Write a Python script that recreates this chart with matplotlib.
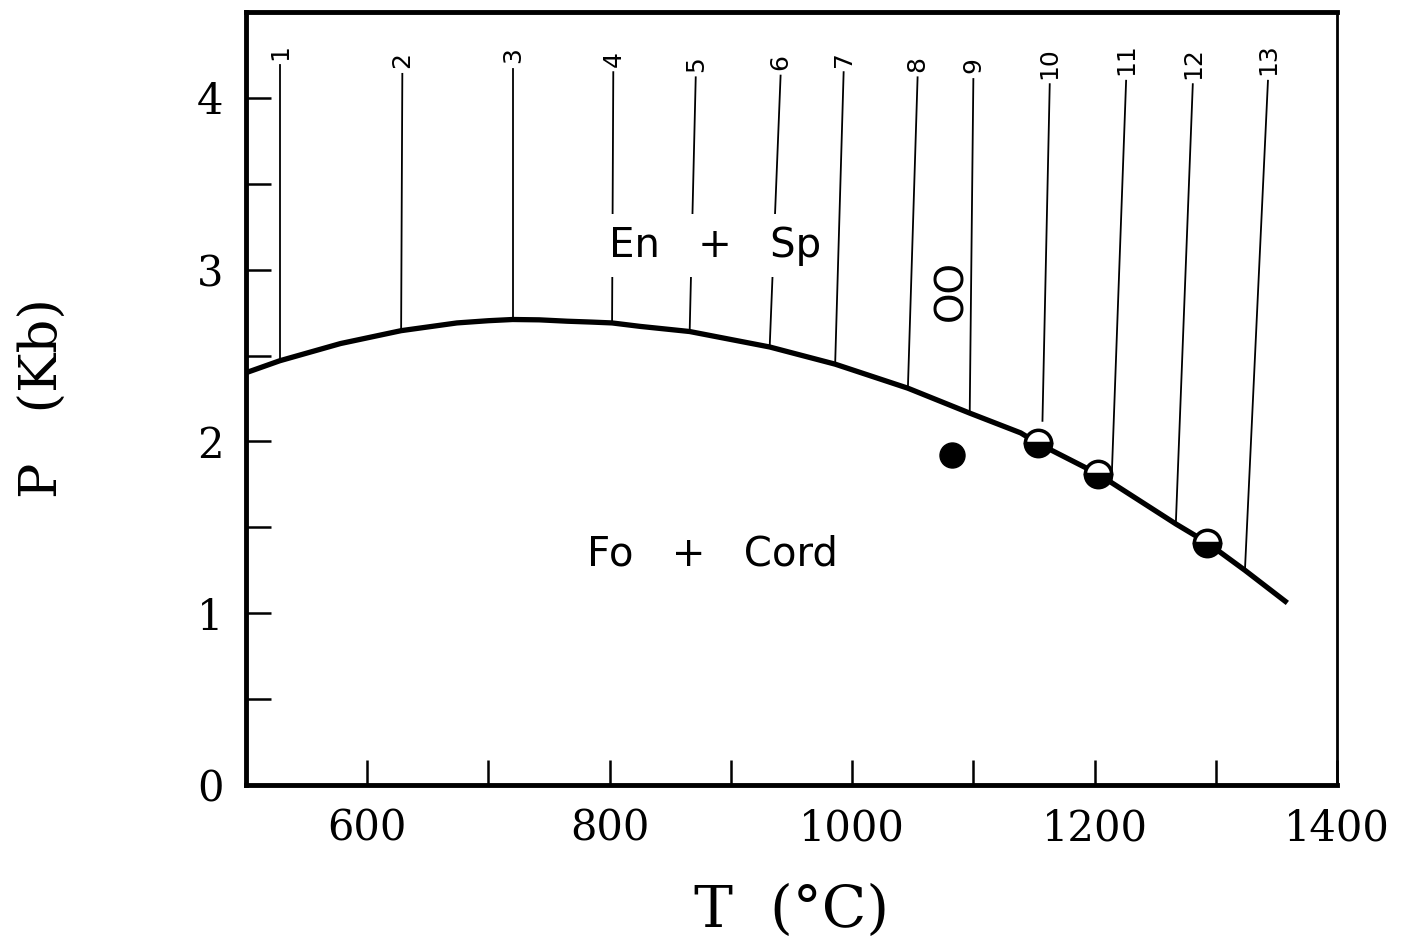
import numpy as np
import matplotlib
matplotlib.use('Agg')
import matplotlib.pyplot as plt
from matplotlib.ticker import MultipleLocator

# boundary curve En + Sp / Fo + Cord
T_curve = [500, 528, 578, 628, 674, 700, 720, 742, 765, 785, 802, 825, 866,
           932, 986, 1046, 1097, 1139, 1153, 1203, 1267, 1293, 1324, 1359]
P_curve = [2.40, 2.47, 2.57, 2.645, 2.69, 2.703, 2.71, 2.708, 2.70, 2.695,
           2.69, 2.67, 2.64, 2.55, 2.45, 2.31, 2.165, 2.05, 1.99, 1.81, 1.52,
           1.41, 1.25, 1.06]

# numbered tie lines: bottom and top end points
tie_num = [str(i) for i in range(1, 14)]
T_bot = [528, 628, 720, 802, 866, 932, 986, 1046, 1097, 1157, 1214, 1267, 1324]
P_bot = [2.47, 2.645, 2.71, 2.69, 2.64, 2.55, 2.45, 2.31, 2.165, 2.12, 1.77, 1.52, 1.25]
T_top = [528, 629, 720, 803, 871, 941, 993, 1054, 1100, 1163, 1226, 1281, 1343]
P_top = [4.19, 4.14, 4.17, 4.15, 4.12, 4.13, 4.15, 4.12, 4.11, 4.08, 4.10, 4.08, 4.10]

# experiments
T_half = [1153, 1203, 1293]
P_half = [1.99, 1.81, 1.41]
T_full = [1082]
P_full = [1.92]

serif = 'DejaVu Serif'
sans = 'DejaVu Sans'

fig = plt.figure(figsize=(14.11, 9.40), dpi=100)
ax = fig.add_axes([0.1743, 0.1649, 0.9476 - 0.1743, 0.9872 - 0.1649])

ax.plot(T_curve, P_curve, color='black', lw=3.8, solid_joinstyle='round',
        solid_capstyle='butt', zorder=3)

for i in range(len(tie_num)):
    ax.plot([T_bot[i], T_top[i]], [P_bot[i], P_top[i]], color='black', lw=1.3, zorder=2)
    ax.annotate(tie_num[i], (T_top[i], P_top[i]), xytext=(0, 4),
                textcoords='offset points', rotation=90, ha='center', va='bottom',
                fontsize=18, family=sans)

ax.plot(T_half, P_half, 'o', ms=19, mew=2.5, mec='black', mfc='black',
        fillstyle='bottom', markerfacecoloralt='white', zorder=4)
ax.plot(T_full, P_full, 'o', ms=18, color='black', zorder=4)

box = dict(facecolor='white', edgecolor='none', pad=8)
ax.text(887, 3.14, 'En   +   Sp', fontsize=29, ha='center', va='center',
        family=sans, bbox=box, zorder=5)
ax.text(885, 1.34, 'Fo   +   Cord', fontsize=29, ha='center', va='center',
        family=sans, zorder=5)
ax.text(1082, 2.88, 'OO', fontsize=28, ha='center', va='center', rotation=90,
        family=sans, zorder=5)

ax.set_xlim(500, 1400)
ax.set_ylim(0, 4.5)
ax.xaxis.set_major_locator(MultipleLocator(200))
ax.xaxis.set_minor_locator(MultipleLocator(100))
ax.yaxis.set_major_locator(MultipleLocator(1))
ax.yaxis.set_minor_locator(MultipleLocator(0.5))
ax.tick_params(which='both', direction='in', length=18, width=1.8,
               top=False, right=False)
ax.tick_params(which='major', labelsize=30, pad=16)

for lab in ax.get_xticklabels() + ax.get_yticklabels():
    lab.set_family(serif)

for side in ['left', 'bottom', 'top']:
    ax.spines[side].set_linewidth(3.5)
ax.spines['right'].set_linewidth(2)

ax.set_xlabel('T  (°C)', fontsize=42, family=serif, labelpad=24)
ax.set_ylabel('P   (Kb)', fontsize=38, family=serif, labelpad=92)

fig.savefig('out.png', dpi=100)
